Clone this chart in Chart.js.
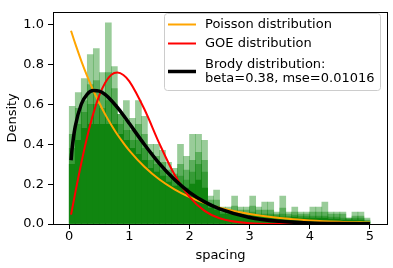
<!DOCTYPE html>
<html>
<head>
<meta charset="utf-8">
<script src="https://cdn.jsdelivr.net/npm/chart.js@4.4.0/dist/chart.umd.min.js"></script>
<style>
  html, body { margin: 0; padding: 0; background: #fff; }
  #wrap { width: 393px; height: 268px; }
</style>
</head>
<body>
<div id="wrap"><canvas id="spacingChart"></canvas></div>
<script>
// histogram bins (centres, width 0.1)
var binX = [0.05, 0.15, 0.25, 0.35, 0.45, 0.55, 0.65, 0.75, 0.85, 0.95,
            1.05, 1.15, 1.25, 1.35, 1.45, 1.55, 1.65, 1.75, 1.85, 1.95,
            2.05, 2.15, 2.25, 2.35, 2.45, 2.55, 2.65, 2.75, 2.85, 2.95,
            3.05, 3.15, 3.25, 3.35, 3.45, 3.55, 3.65, 3.75, 3.85, 3.95,
            4.05, 4.15, 4.25, 4.35, 4.45, 4.55, 4.65, 4.75, 4.85, 4.95];

// overlapping density histograms, tallest to lowest
var histMax = [0.59, 0.66, 0.73, 0.85, 0.88, 0.76, 1.01, 0.79, 0.55, 0.62,
               0.53, 0.62, 0.54, 0.40, 0.40, 0.37, 0.31, 0.28, 0.40, 0.34,
               0.45, 0.45, 0.42, 0.14, 0.17, 0.085, 0.085, 0.14, 0.085, 0.085,
               0.14, 0.085, 0.11, 0.11, 0.06, 0.14, 0.06, 0.085, 0.06, 0.06,
               0.085, 0.085, 0.11, 0.06, 0.06, 0.06, 0.03, 0.06, 0.06, 0.03];
var histUpper = [0.45, 0.58, 0.62, 0.70, 0.72, 0.66, 0.76, 0.68, 0.55, 0.52,
                 0.47, 0.50, 0.45, 0.36, 0.34, 0.31, 0.27, 0.25, 0.30, 0.27,
                 0.32, 0.36, 0.32, 0.12, 0.12, 0.07, 0.07, 0.09, 0.07, 0.07,
                 0.09, 0.07, 0.07, 0.07, 0.05, 0.08, 0.05, 0.06, 0.05, 0.05,
                 0.06, 0.06, 0.06, 0.05, 0.05, 0.05, 0.03, 0.04, 0.04, 0.02];
var histMid = [0.38, 0.50, 0.56, 0.60, 0.60, 0.58, 0.62, 0.60, 0.50, 0.47,
               0.42, 0.42, 0.38, 0.32, 0.30, 0.27, 0.24, 0.22, 0.24, 0.22,
               0.26, 0.30, 0.26, 0.10, 0.09, 0.06, 0.06, 0.065, 0.055, 0.05,
               0.06, 0.05, 0.05, 0.05, 0.045, 0.05, 0.04, 0.045, 0.04, 0.04,
               0.04, 0.04, 0.04, 0.035, 0.035, 0.03, 0.025, 0.03, 0.03, 0.015];
var histCore = [0.30, 0.42, 0.48, 0.50, 0.50, 0.50, 0.50, 0.50, 0.45, 0.42,
                0.38, 0.35, 0.32, 0.28, 0.26, 0.24, 0.21, 0.19, 0.19, 0.18,
                0.20, 0.22, 0.18, 0.08, 0.07, 0.05, 0.05, 0.05, 0.045, 0.04,
                0.045, 0.04, 0.04, 0.04, 0.035, 0.035, 0.03, 0.035, 0.03, 0.03,
                0.03, 0.03, 0.03, 0.025, 0.025, 0.02, 0.02, 0.02, 0.02, 0.01];

// fitted curves
var curveX  = [0.03, 0.05, 0.1, 0.2, 0.3, 0.4, 0.5, 0.6, 0.7, 0.8, 0.9, 1.0,
               1.25, 1.5, 1.75, 2.0, 2.25, 2.5, 3.0, 3.5, 4.0, 4.5, 5.0];
var poisson = [0.970, 0.951, 0.905, 0.819, 0.741, 0.670, 0.607, 0.549, 0.497, 0.449, 0.407, 0.368,
               0.287, 0.223, 0.174, 0.135, 0.105, 0.082, 0.050, 0.030, 0.018, 0.011, 0.007];
var goe     = [0.047, 0.078, 0.156, 0.305, 0.439, 0.554, 0.645, 0.710, 0.749, 0.760, 0.748, 0.716,
               0.576, 0.403, 0.248, 0.136, 0.066, 0.029, 0.004, 0.0004, 0, 0, 0];
var brody   = [0.320, 0.385, 0.490, 0.601, 0.652, 0.670, 0.667, 0.649, 0.620, 0.585, 0.546, 0.504,
               0.399, 0.303, 0.223, 0.159, 0.111, 0.076, 0.033, 0.0136, 0.0052, 0.0019, 0.0007];

var legendLabels = ['Poisson distribution', 'GOE distribution',
                    ['Brody distribution:', 'beta=0.38, mse=0.01016']];

var yTicks = [0, 0.2, 0.4, 0.6, 0.8, 1.0];
var xTicks = [0, 1, 2, 3, 4, 5];

function pts(xs, ys) {
    return xs.map(function (x, i) { return { x: x, y: ys[i] }; });
}

var HIST_FILL = 'rgba(0, 128, 0, 0.4)';

var frameAndLegend = {
    id: 'frameAndLegend',
    afterDatasetsDraw: function (chart) {
        var ctx = chart.ctx;
        var a = chart.chartArea;
        ctx.save();
        ctx.strokeStyle = '#000';
        ctx.lineWidth = 1;
        ctx.strokeRect(Math.round(a.left) + 0.5, Math.round(a.top) + 0.5,
                       Math.round(a.right - a.left) - 1, Math.round(a.bottom - a.top));

        // legend box
        var bx = 164.5, by = 13.5, bw = 216, bh = 77, r = 3;
        ctx.beginPath();
        ctx.moveTo(bx + r, by);
        ctx.arcTo(bx + bw, by, bx + bw, by + bh, r);
        ctx.arcTo(bx + bw, by + bh, bx, by + bh, r);
        ctx.arcTo(bx, by + bh, bx, by, r);
        ctx.arcTo(bx, by, bx + bw, by, r);
        ctx.closePath();
        ctx.fillStyle = 'rgba(255,255,255,0.8)';
        ctx.fill();
        ctx.strokeStyle = '#cccccc';
        ctx.stroke();

        var rows = [
            { color: '#ffa500', width: 2, y: 24.5 },
            { color: '#ff0000', width: 2, y: 43.5 },
            { color: '#000000', width: 3.5, y: 71.5 }
        ];
        ctx.font = '13px "DejaVu Sans"';
        ctx.fillStyle = '#000';
        ctx.textBaseline = 'middle';
        ctx.textAlign = 'left';
        rows.forEach(function (row, i) {
            ctx.beginPath();
            ctx.strokeStyle = row.color;
            ctx.lineWidth = row.width;
            ctx.moveTo(168, row.y);
            ctx.lineTo(196, row.y);
            ctx.stroke();
            var label = legendLabels[i];
            if (Array.isArray(label)) {
                ctx.fillText(label[0], 205, row.y - 7);
                ctx.fillText(label[1], 205, row.y + 7);
            } else {
                ctx.fillText(label, 205, row.y);
            }
        });
        ctx.restore();
    }
};

Chart.defaults.font.family = '"DejaVu Sans", sans-serif';
Chart.defaults.font.size = 13;
Chart.defaults.color = '#000';

var ctx = document.getElementById('spacingChart').getContext('2d');
var spacingChart = new Chart(ctx, {
    type: 'bar',
    data: {
        datasets: [
            { type: 'line', data: pts(curveX, brody), borderColor: '#000000', borderWidth: 3.5,
              pointRadius: 0, cubicInterpolationMode: 'monotone', order: 0 },
            { type: 'line', data: pts(curveX, goe), borderColor: '#ff0000', borderWidth: 2,
              pointRadius: 0, cubicInterpolationMode: 'monotone', order: 1 },
            { type: 'line', data: pts(curveX, poisson), borderColor: '#ffa500', borderWidth: 2,
              pointRadius: 0, cubicInterpolationMode: 'monotone', order: 2 },
            { data: pts(binX, histCore), backgroundColor: 'rgb(16, 133, 16)', order: 3 },
            { data: pts(binX, histMid), backgroundColor: HIST_FILL, order: 4 },
            { data: pts(binX, histUpper), backgroundColor: HIST_FILL, order: 5 },
            { data: pts(binX, histMax), backgroundColor: HIST_FILL, order: 6 }
        ]
    },
    options: {
        responsive: true,
        maintainAspectRatio: false,
        animation: false,
        grouped: false,
        categoryPercentage: 1.0,
        barPercentage: 1.0,
        layout: { padding: { top: 6, right: 5, left: 0, bottom: 0 } },
        plugins: { legend: { display: false }, tooltip: { enabled: false } },
        scales: {
            x: {
                type: 'linear',
                min: -0.27,
                max: 5.3,
                offset: false,
                afterFit: function (s) { s.height = 44; },
                afterBuildTicks: function (s) { s.ticks = xTicks.map(function (v) { return { value: v }; }); },
                ticks: { padding: 0, callback: function (v) { return v; } },
                grid: { offset: false, drawOnChartArea: false, drawTicks: true, tickLength: 5, color: '#000' },
                border: { display: false },
                title: { display: true, text: 'spacing', padding: { top: 0, bottom: 5 } }
            },
            y: {
                min: 0,
                max: 1.065,
                afterFit: function (s) { s.width = 53; },
                afterBuildTicks: function (s) { s.ticks = yTicks.map(function (v) { return { value: v }; }); },
                ticks: { padding: 4, callback: function (v) { return v.toFixed(1); } },
                grid: { offset: false, drawOnChartArea: false, drawTicks: true, tickLength: 5, color: '#000' },
                border: { display: false },
                title: { display: true, text: 'Density', padding: { top: 5, bottom: 0 } }
            }
        }
    },
    plugins: [frameAndLegend]
});
</script>
</body>
</html>
